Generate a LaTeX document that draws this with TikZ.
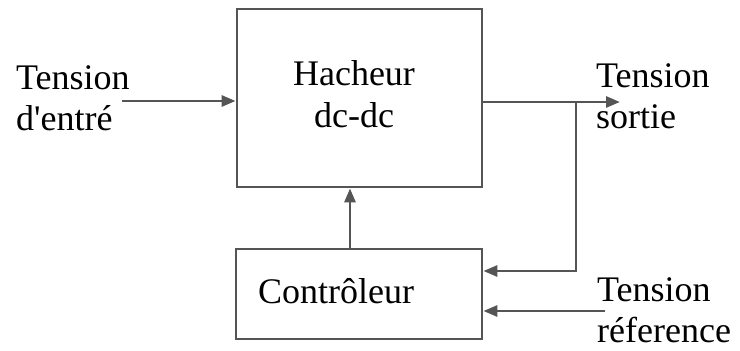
\documentclass[tikz,border=0pt]{standalone}
\usepackage{fontspec}
\setmainfont{Liberation Serif}
\usetikzlibrary{arrows.meta}
\definecolor{ln}{HTML}{555555}
\begin{document}
\begin{tikzpicture}[x=1pt,y=-1pt,
  blk/.style={draw=ln,line width=2.8pt,inner sep=0pt},
  arr/.style={draw=ln,line width=2.8pt,-{Triangle[length=14pt,width=11pt]}},
  lbl/.style={inner sep=0pt,align=left,font=\fontsize{36}{41}\selectfont,anchor=base west}]
\useasboundingbox (0,0) rectangle (740,351);
\node[blk,minimum width=245pt,minimum height=178pt] (hach) at (359.5,98) {};
\node[inner sep=0pt,align=center,font=\fontsize{36}{42}\selectfont,anchor=base] (htxt) at (354,127) {Hacheur\\dc-dc};
\node[blk,minimum width=246pt,minimum height=90pt] (ctrl) at (359,294) {};
\node[lbl] (ctxt) at (258,303) {Contrôleur};
\node[lbl] (lin) at (16,130) {Tension\\d\textquotesingle entré};
\node[lbl] (lout) at (596,128) {Tension\\sortie};
\node[lbl] (lref) at (597,342) {Tension\\réference};
\coordinate (inS) at (122,101);
\coordinate (outE) at (620,102);
\coordinate (fb) at (576,102);
\coordinate (fbY) at (0,271);
\coordinate (refS) at (605,311);
\coordinate (upX) at (350,0);
\draw[arr] (inS) -- (inS -| hach.west);
\draw[arr] (outE -| hach.east) -- (outE);
\draw[arr] (fb) |- (ctrl.east |- fbY);
\draw[arr] (refS) -- (refS -| ctrl.east);
\draw[arr] (upX |- ctrl.north) -- (upX |- hach.south);
\end{tikzpicture}
\end{document}
